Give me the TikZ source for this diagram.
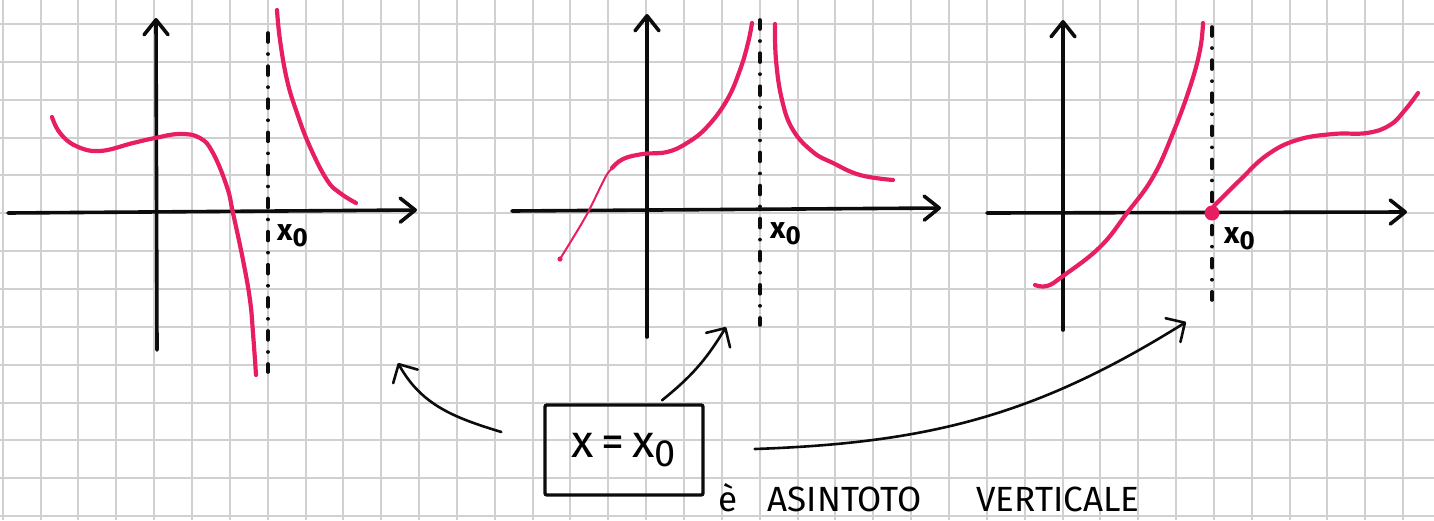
\documentclass[tikz,border=0pt]{standalone}
\usepackage{fontspec}
\setsansfont{Fira Sans}
\usetikzlibrary{arrows.meta, positioning, calc}
\definecolor{sketchPink}{RGB}{232, 30, 99}
\definecolor{sketchInk}{RGB}{12, 12, 12}
\definecolor{sketchGrid}{RGB}{208, 208, 208}
\newcommand{\xnaught}[1]{x\raisebox{-0.2em}{\fontsize{#1}{#1}\selectfont 0}}

\begin{document}
\begin{tikzpicture}[
    x=1pt, y=-1pt,
    font=\sffamily,
    % Squared paper
    gridline/.style={
        draw=sketchGrid,
        line width=2pt
    },
    % Coordinate axes
    axisline/.style={
        draw=sketchInk,
        line width=3.6pt,
        line cap=round,
        -{Straight Barb[round, length=15pt, width=24pt]}
    },
    % Vertical asymptote
    asymptote/.style={
        draw=sketchInk,
        line width=3.6pt,
        line cap=round,
        dash pattern=on 9pt off 12pt on 0.1pt off 12pt
    },
    % Graph of the function
    fcurve/.style={
        draw=sketchPink,
        line width=4.2pt,
        line cap=round,
        line join=round
    },
    % Label of x0 on the axis
    xlabel/.style={
        inner sep=0pt,
        font=\sffamily\bfseries\fontsize{30}{30}\selectfont
    },
    % Boxed equation
    eqbox/.style={
        draw=sketchInk,
        line width=3.4pt,
        rounded corners=2pt,
        minimum width=158pt,
        minimum height=90pt,
        inner sep=0pt,
        font=\sffamily\fontsize{46}{50}\selectfont
    },
    % Hand written caption
    captext/.style={
        inner sep=0pt,
        font=\sffamily\fontsize{35}{38}\selectfont
    },
    % Thin pointing arrow
    pointer/.style={
        draw=sketchInk,
        line width=2.6pt,
        line cap=round,
        -{Straight Barb[round, length=14pt, width=28pt]}
    }
]
    \useasboundingbox (0,0) rectangle (1434,520);

    % Squared paper
    \foreach \i in {0,...,37}
        \draw[gridline] ({2.7+37.85*\i},0) -- ({2.7+37.85*\i},520);
    \foreach \j in {0,...,13}
        \draw[gridline] (0,{24+37.85*\j}) -- (1434,{24+37.85*\j});

    % Graph 1: both branches diverge
    \draw[axisline] (8,213) -- (417,210);
    \draw[axisline] (157,350) -- (156,18);
    \draw[asymptote] (268,33) -- (268,372);
    \draw[fcurve] plot[smooth, tension=0.7] coordinates {(52,117) (60,133) (76,146) (100,151) (133,143) (155,138) (180,134) (200,138) (213,153) (227,187) (233,213) (243,260) (250,300) (253,333) (256,375)};
    \draw[fcurve] plot[smooth, tension=0.7] coordinates {(277,10) (280,40) (287,80) (297,113) (310,147) (327,180) (340,193) (356,203)};
    \node (xa) [xlabel, anchor=west] at (277,236) {\xnaught{26}};

    % Graph 2: both branches to +infinity
    \draw[axisline] (512,211) -- (941,208);
    \draw[axisline] (647,337) -- (647,14);
    \draw[asymptote] (760,20) -- (760,325);
    \draw[fcurve, line width=2pt] plot[smooth] coordinates {(560,259) (586,216) (606,176) (614,167)};
    \fill[sketchPink] (560,259) circle (2.6pt);
    \draw[fcurve] plot[smooth, tension=0.7] coordinates {(612,168) (623,159) (643,154) (667,152) (687,143) (707,127) (727,100) (740,70) (748,43) (752,23)};
    \draw[fcurve] plot[smooth, tension=0.7] coordinates {(775,24) (776,60) (782,100) (793,130) (813,152) (833,163) (860,175) (893,180)};
    \node (xb) [xlabel, anchor=west] at (770,234) {\xnaught{26}};

    % Graph 3: only the left branch diverges
    \draw[axisline] (987,213) -- (1407,212);
    \draw[axisline] (1063,330) -- (1063,20);
    \draw[asymptote] (1212,27) -- (1212,300);
    \draw[fcurve] plot[smooth, tension=0.7] coordinates {(1035,285) (1047,286) (1063,276) (1100,247) (1127,213) (1153,177) (1173,133) (1190,87) (1200,50) (1203,23)};
    \draw[fcurve] plot[smooth, tension=0.7] coordinates {(1213,207) (1240,180) (1267,155) (1297,140) (1333,134) (1367,133) (1390,125) (1405,110) (1418,93)};
    \fill[sketchPink] (1212,213) circle (7.5pt);
    \node (xc) [xlabel, anchor=west] at (1224,239) {\xnaught{26}};

    % Equation and caption
    \node (eq) [eqbox] at (624,450) {x\,=\,\xnaught{38}};
    \node (accent) [captext, anchor=base west] at (718,511) {è};
    \node (asintoto) [captext, base right=30pt of accent] {ASINTOTO};
    \node (verticale) [captext, base right=54pt of asintoto] {VERTICALE};

    % Arrows to the graphs
    \coordinate (toFirst) at (398,363);
    \coordinate (toSecond) at (726,327);
    \coordinate (toThird) at (1186,322);
    \draw[pointer] ([xshift=-42pt, yshift=18pt]eq.west) to[out=163, in=-61] (toFirst);
    \draw[pointer] ([xshift=38pt, yshift=3pt]eq.north) to[bend right=10] (toSecond);
    \draw[pointer] ([xshift=50pt, yshift=1pt]eq.east) to[out=2, in=212] (toThird);

\end{tikzpicture}
\end{document}
